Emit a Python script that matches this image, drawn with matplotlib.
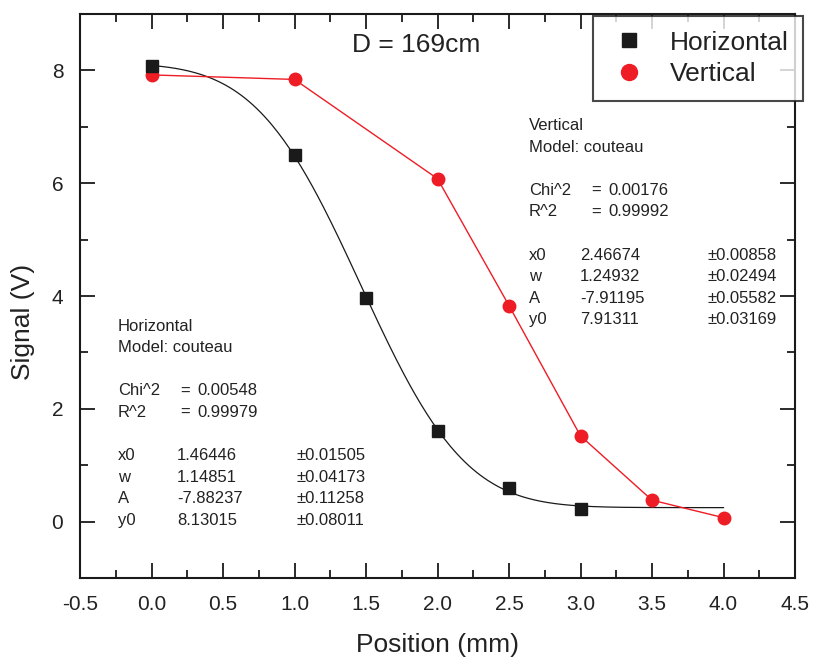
import math
import numpy as np
import matplotlib
matplotlib.use("Agg")
from matplotlib import pyplot as plt
from matplotlib.lines import Line2D
from matplotlib.ticker import MultipleLocator, FormatStrFormatter

plt.rcParams["font.family"] = ["Liberation Sans", "DejaVu Sans"]

# Datos medidos
pos_h = [0.0, 1.0, 1.5, 2.0, 2.5, 3.0]
sig_h = [8.08, 6.50, 3.97, 1.60, 0.60, 0.22]
pos_v = [0.0, 1.0, 2.0, 2.5, 3.0, 3.5, 4.0]
sig_v = [7.92, 7.84, 6.08, 3.83, 1.52, 0.38, 0.07]

# Parámetros del ajuste (modelo couteau) de la serie horizontal
fit_h = {"x0": 1.46446, "w": 1.14851, "A": -7.88237, "y0": 8.13015}

head_h = ["Horizontal", "Model: couteau"]
stats_h = [("Chi^2", "0.00548"), ("R^2", "0.99979")]
params_h = [("x0", "1.46446", "±0.01505"), ("w", "1.14851", "±0.04173"),
            ("A", "-7.88237", "±0.11258"), ("y0", "8.13015", "±0.08011")]
head_v = ["Vertical", "Model: couteau"]
stats_v = [("Chi^2", "0.00176"), ("R^2", "0.99992")]
params_v = [("x0", "2.46674", "±0.00858"), ("w", "1.24932", "±0.02494"),
            ("A", "-7.91195", "±0.05582"), ("y0", "7.91311", "±0.03169")]

RED = "#ee1c25"
BLACK = "#1a1a1a"
TXT = "#222222"


def couteau(x, p):
    return np.array([p["y0"] + p["A"] / 2 * (1 + math.erf(math.sqrt(2) * (xi - p["x0"]) / p["w"])) for xi in x])


fig = plt.figure(figsize=(8.13, 6.59), dpi=100)
ax = fig.add_axes([80 / 813, 1 - 578 / 659, 715 / 813, 564 / 659])

xs = np.linspace(0, 4, 300)
ax.plot(xs, couteau(xs, fit_h), color=BLACK, lw=0.9, zorder=2)
ax.plot(pos_v, sig_v, color=RED, lw=1.0, marker="o", ms=9, mec=RED, mfc=RED, zorder=3)
ax.plot(pos_h, sig_h, ls="none", marker="s", ms=8.5, color=BLACK, zorder=4)

ax.set_xlim(-0.5, 4.5)
ax.set_ylim(-1, 9)
ax.xaxis.set_major_locator(MultipleLocator(0.5))
ax.xaxis.set_minor_locator(MultipleLocator(0.25))
ax.yaxis.set_major_locator(MultipleLocator(2))
ax.yaxis.set_minor_locator(MultipleLocator(1))
ax.xaxis.set_major_formatter(FormatStrFormatter("%.1f"))
ax.tick_params(which="both", direction="in", top=True, right=True, width=1.3, colors=BLACK,
               labelsize=15, labelcolor=TXT)
ax.tick_params(which="major", length=11, pad=12)
ax.tick_params(which="minor", length=6)
for s in ax.spines.values():
    s.set_linewidth(1.5)
    s.set_color(BLACK)

ax.set_xlabel("Position (mm)", fontsize=19, color=TXT, labelpad=14)
ax.set_ylabel("Signal (V)", fontsize=19, color=TXT, va="center")
ax.yaxis.set_label_coords(-0.0797, 0.454)

ax.text(1.85, 8.45, "D = 169cm", fontsize=19, color=TXT, ha="center", va="center")


# Cuadros de resultados del ajuste
def px(p):
    return -0.5 + (p - 80) / 143.0


def fit_box(x_left, val_off, y_top, head, stats, params):
    step = 0.383
    kw = dict(fontsize=12, color=TXT, va="center")
    y = y_top
    for line in head:
        ax.text(px(x_left), y, line, **kw)
        y -= step
    y -= step
    for name, val in stats:
        ax.text(px(x_left), y, name, **kw)
        ax.text(px(x_left + 62), y, "=", **kw)
        ax.text(px(x_left + 79), y, val, **kw)
        y -= step
    y -= step
    for name, val, err in params:
        ax.text(px(x_left), y, name, **kw)
        ax.text(px(x_left + val_off), y, val, **kw)
        ax.text(px(x_left + 178), y, err, **kw)
        y -= step


fit_box(118, 59, (521 - 326) / 56.25, head_h, stats_h, params_h)
fit_box(529, 51, (521 - 126) / 56.25, head_v, stats_v, params_v)

handles = [Line2D([], [], ls="none", marker="s", ms=9.5, color=BLACK),
           Line2D([], [], ls="none", marker="o", ms=11.5, color=RED)]
leg = ax.legend(handles, ["Horizontal", "Vertical"], loc="upper right",
                bbox_to_anchor=(803 / 813, 1 - 16 / 659), bbox_transform=fig.transFigure,
                fontsize=19, frameon=True, fancybox=False, borderpad=0.55,
                handletextpad=0.74, labelspacing=0.3, borderaxespad=0, handlelength=1.63)
leg.get_frame().set_edgecolor(BLACK)
leg.get_frame().set_linewidth(1.5)
for t in leg.get_texts():
    t.set_color(TXT)

fig.savefig("out.png", dpi=100)
